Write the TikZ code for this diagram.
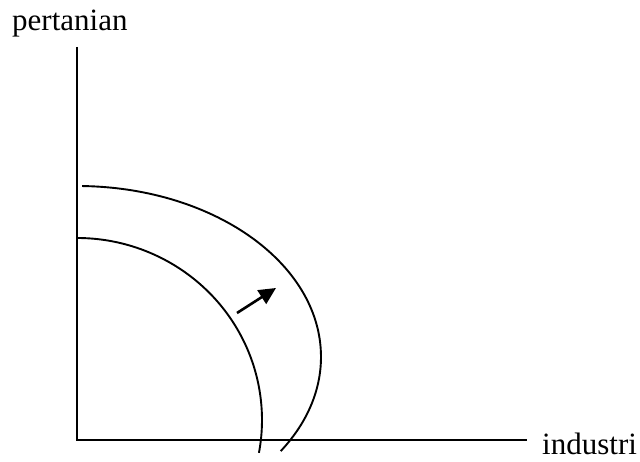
\documentclass[tikz,border=0pt]{standalone}
\usepackage{fontspec}
\setmainfont{Liberation Serif}
\usetikzlibrary{arrows.meta}
\tikzset{
  axis/.style={line width=2pt, line cap=butt},
  curve/.style={line width=1.9pt},
  shiftarrow/.style={line width=2.6pt, -{Triangle[length=17pt,width=16pt]}},
  lbl/.style={inner sep=0pt, font=\fontsize{31}{36}\selectfont},
}
\begin{document}
\begin{tikzpicture}[x=1pt,y=1pt]
\useasboundingbox (0,0) rectangle (640,462);
% axes
\coordinate (top) at (77,415);
\coordinate (origin) at (77,22);
\coordinate (right) at (527,22);
\draw[axis] (top) -- (origin) -- (right);
% labels
\node[lbl, anchor=base west] (ylab) at (12,431) {pertanian};
\node[lbl, anchor=base west] (xlab) at (542,7) {industri};
% inner curve (quarter ellipse)
\coordinate (innerstart) at (77,224);
\draw[curve] (innerstart) arc[start angle=90, end angle=-10.4, x radius=185, y radius=182];
% outer curve
\coordinate (outerstart) at ({77+244*cos(88.8)},{105+171*sin(88.8)});
\draw[curve] (outerstart) arc[start angle=88.8, end angle=-33.4, x radius=244, y radius=171];
% shift arrow
\coordinate (atail) at (237,149);
\coordinate (ahead) at (276,174);
\draw[shiftarrow] (atail) -- (ahead);
\end{tikzpicture}
\end{document}
